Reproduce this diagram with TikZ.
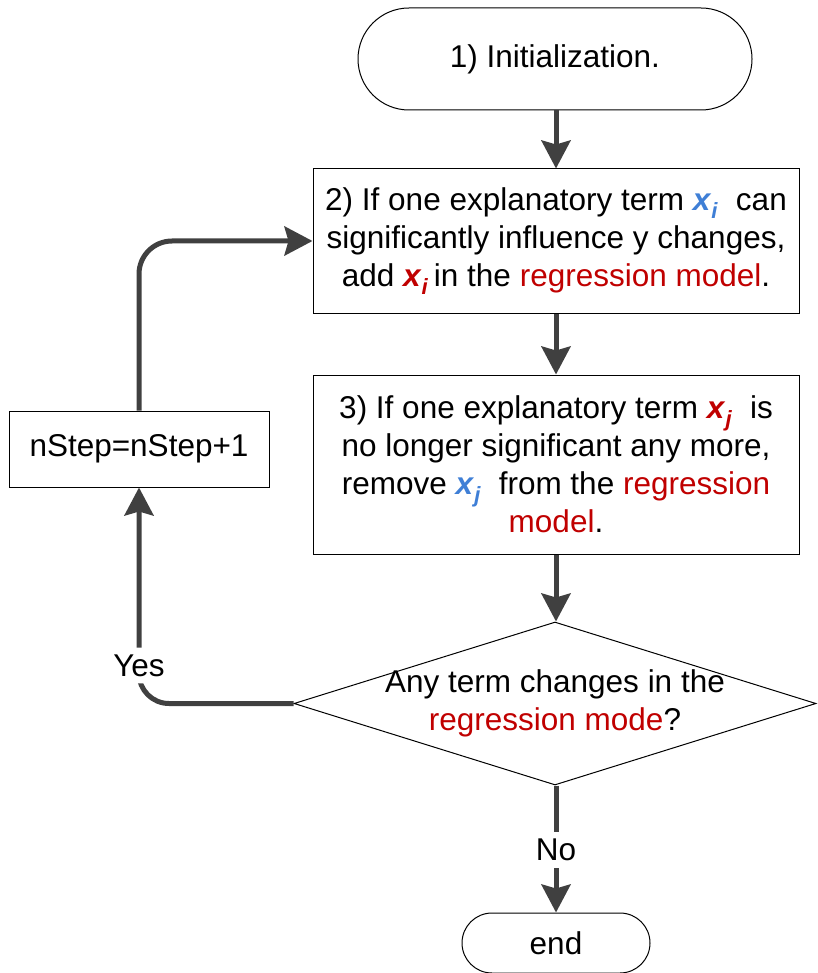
\documentclass[tikz,border=0pt]{standalone}
\usepackage{fontspec}
\setmainfont{Liberation Sans}
\usetikzlibrary{shapes.geometric,arrows.meta,positioning}
\definecolor{termblue}{HTML}{3F7FD6}
\definecolor{termred}{HTML}{C00000}
\definecolor{flowgray}{HTML}{404040}
\newcommand{\termvar}[2]{\textcolor{#1}{\textbf{\textit{x}}\textsubscript{\textbf{\textit{#2}}}}}

\begin{document}
\begin{tikzpicture}[
				x = 1pt, y = -1pt,
				every node/.style = {font = \fontsize{31.5}{38}\selectfont},
				terminal/.style = {draw, line width = 1pt, inner sep = 0pt},
				process/.style = {draw, line width = 1pt, align = center, minimum width = 486pt, inner sep = 0pt},
				decision/.style = {draw, diamond, line width = 1pt, inner sep = 0pt, minimum width = 522pt, minimum height = 163pt},
				flow/.style = {draw = flowgray, line width = 5pt, -{Stealth[length=28pt,width=29pt,inset=4pt]}},
				flowlabel/.style = {fill = white, inner sep = 7pt}
			]

			\useasboundingbox (0,0) rectangle (817,973);

			\node[terminal, rounded corners = 51pt, minimum width = 394pt, minimum height = 102pt] (init) at (555,59) {1) Initialization.};
			\node[process, minimum height = 144pt] (add) at (556,241)
				{2) If one explanatory term \termvar{termblue}{i}~\ can\\
				 significantly influence y changes,\\
				 add \termvar{termred}{i}\,in the \textcolor{termred}{regression model}.};
			\node[process, minimum height = 179pt] (remove) at (556,464.5)
				{3) If one explanatory term \termvar{termred}{j}~\ is\\
				 no longer significant any more,\\
				 remove \termvar{termblue}{j}~\ from the \textcolor{termred}{regression}\\
				 \textcolor{termred}{model}.};
			\node[decision] (check) at (555,703.5)
				{\makebox[0pt]{\begin{tabular}{@{}c@{}}Any term changes in the\\ \textcolor{termred}{regression mode}?\end{tabular}}};
			\node[draw, line width = 1pt, minimum width = 260pt, minimum height = 76pt] (nstep) at (139,449) {nStep=nStep+1};
			\node[terminal, rounded corners = 30pt, minimum width = 188pt, minimum height = 60pt] (finish) at (556,943) {end};

			\draw[flow] (init.south -| add.north) -- (add.north);
			\draw[flow] (add.south) -- (remove.north);
			\draw[flow] (remove.south) -- (remove.south |- check.north);
			\draw[flow, rounded corners = 30pt] (check.west) -| node[pos = 0.588, flowlabel] {Yes} (nstep.south);
			\draw[flow, rounded corners = 33pt] (nstep.north) |- (add.west);
			\draw[flow] (check.south -| finish.north) -- node[pos = 0.51, flowlabel] {No} (finish.north);

			\end{tikzpicture}
\end{document}
